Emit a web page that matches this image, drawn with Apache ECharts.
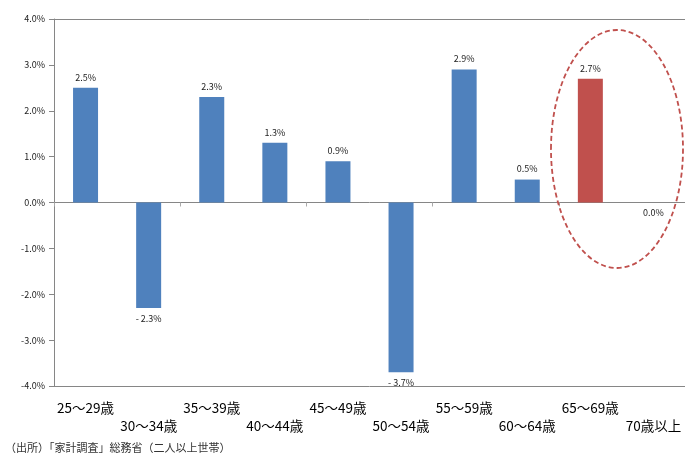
<!DOCTYPE html>
<html>
<head>
<meta charset="utf-8">
<script src="https://cdn.jsdelivr.net/npm/echarts@6/dist/echarts.min.js"></script>
<style>
  html, body { margin: 0; padding: 0; background: #fff; }
  #chart { width: 685px; height: 454px; }
</style>
</head>
<body>
<div id="chart"></div>
<script>
// Age groups of the household head
const categories = ['25～29歳', '30～34歳', '35～39歳', '40～44歳', '45～49歳',
                    '50～54歳', '55～59歳', '60～64歳', '65～69歳', '70歳以上'];
// Change rate (%)
const values = [2.5, -2.3, 2.3, 1.3, 0.9, -3.7, 2.9, 0.5, 2.7, 0.0];
// Highlighted age group
const highlightIndex = 8;
const yTicks = [-4, -3, -2, -1, 0, 1, 2, 3, 4];
const sourceNote = '（出所）「家計調査」総務省（二人以上世帯）';

const BLUE = '#4f81bd';
const RED = '#c0504d';
const AXIS = '#868686';
const FONT = '"Noto Sans CJK JP", "Noto Sans", sans-serif';

const chart = echarts.init(document.getElementById('chart'), null, { renderer: 'canvas' });

const barData = values.map((v, i) => ({
  value: v,
  itemStyle: { color: i === highlightIndex ? RED : BLUE },
  label: { position: v > 0 ? 'top' : 'bottom' }
}));

// border lines only at the top and bottom of the value range
const splitColors = yTicks.map((t, i) => (i === 0 || i === yTicks.length - 1) ? AXIS : 'rgba(0,0,0,0)');

chart.setOption({
  animation: false,
  backgroundColor: '#fff',
  grid: { left: 54, top: 19, bottom: 68, width: 632 },
  xAxis: [
    {
      type: 'category',
      data: categories,
      axisLine: { onZero: true, lineStyle: { color: AXIS, width: 1 } },
      axisTick: { show: true, inside: false, length: 4, lineStyle: { color: '#aaaaaa' } },
      axisLabel: { show: false }
    },
    {
      type: 'category',
      data: categories,
      position: 'bottom',
      axisLine: { show: false, onZero: false },
      axisTick: { show: false },
      axisLabel: {
        interval: 0,
        margin: 13,
        color: '#000',
        fontFamily: FONT,
        fontSize: 13.5,
        lineHeight: 18,
        verticalAlign: 'top',
        formatter: (v, i) => (i % 2 === 1 ? '\n' + v : v)
      }
    }
  ],
  yAxis: {
    type: 'value',
    min: -4,
    max: 4,
    interval: 1,
    axisLine: { show: true, lineStyle: { color: AXIS } },
    axisTick: { show: true, length: 5, lineStyle: { color: AXIS } },
    axisLabel: {
      color: '#222',
      fontFamily: FONT,
      fontSize: 9,
      margin: 9,
      formatter: v => v.toFixed(1) + '%'
    },
    splitLine: { show: true, lineStyle: { color: splitColors, width: 1 } }
  },
  series: [{
    type: 'bar',
    xAxisIndex: 0,
    data: barData,
    barWidth: 25,
    label: {
      show: true,
      color: '#222',
      fontFamily: FONT,
      fontSize: 9,
      distance: 6,
      formatter: p => (p.value < 0 ? '- ' + Math.abs(p.value).toFixed(1) : p.value.toFixed(1)) + '%'
    }
  }],
  graphic: [
    {
      type: 'ellipse',
      shape: { cx: 617, cy: 149, rx: 66, ry: 119 },
      style: { fill: 'none', stroke: RED, lineWidth: 1.8, lineDash: [5, 3] },
      z: 10
    },
    {
      type: 'text',
      left: 5,
      top: 442,
      style: { text: sourceNote, fill: '#333', font: '11px ' + FONT }
    }
  ]
});
</script>
</body>
</html>
